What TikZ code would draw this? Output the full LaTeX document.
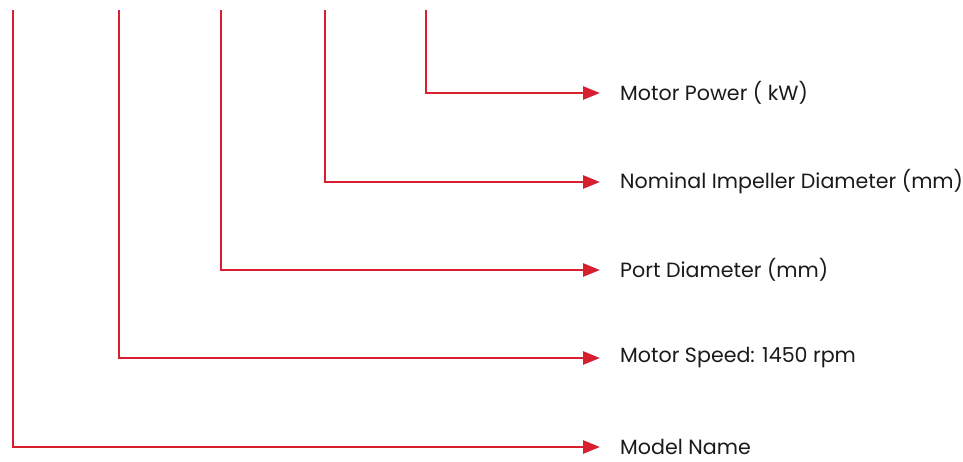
\documentclass[tikz,border=0pt]{standalone}
\usepackage{fontspec}
\setmainfont{Poppins}
\usetikzlibrary{arrows.meta}
\definecolor{codered}{HTML}{D71F30}
\definecolor{codetext}{HTML}{1A1A1A}
\tikzset{
  leader/.style={draw=codered, line width=2.6pt, line join=miter,
    -{Triangle[length=17pt,width=13pt]}, shorten >=20pt},
  field/.style={anchor=west, inner sep=0pt, text=codetext,
    font=\fontsize{20.6pt}{24pt}\selectfont}
}
\begin{document}
\begin{tikzpicture}[x=1pt,y=-1pt]
  \useasboundingbox (0,0) rectangle (963,461);
  % tops of the five leader lines
  \coordinate (t1) at (13,10);
  \coordinate (t2) at (119,10);
  \coordinate (t3) at (221,10);
  \coordinate (t4) at (325,10);
  \coordinate (t5) at (426,10);
  % field labels
  \node[field] (f5) at (620,93)  {Motor Power ( kW)};
  \node[field] (f4) at (620,182) {Nominal Impeller Diameter (mm)};
  \node[field] (f3) at (620,270) {Port Diameter (mm)};
  \node[field] (f2) at (620,358) {Motor Speed: 1450 rpm};
  \node[field] (f1) at (620,447) {Model Name};
  % leaders
  \foreach \i in {1,...,5}{
    \draw[leader] (t\i) |- (f\i.west);
  }
\end{tikzpicture}
\end{document}
